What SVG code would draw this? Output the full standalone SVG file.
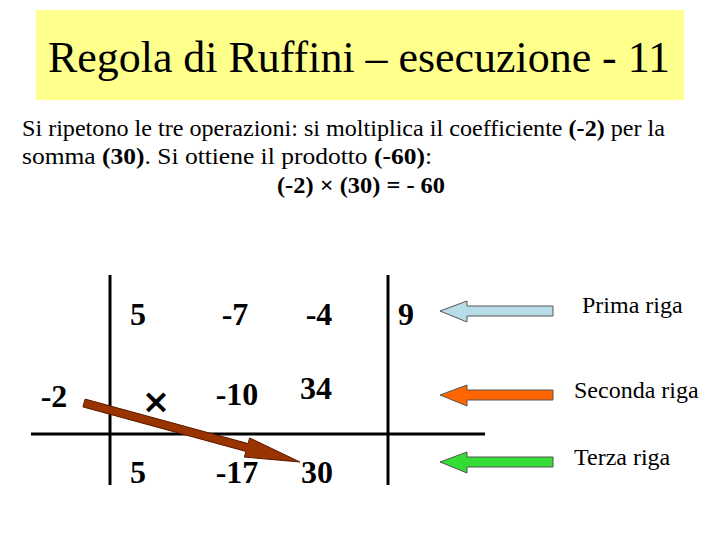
<svg xmlns="http://www.w3.org/2000/svg" width="720" height="540" viewBox="0 0 720 540">
<style>
.t{font-family:"Liberation Serif","Times New Roman",serif;fill:#000}
.n{font-family:"Liberation Serif","Times New Roman",serif;font-weight:bold;font-size:32px;fill:#000}
.p{font-size:23px}
.lbl{font-size:24px}
.ln{stroke:#000;stroke-width:3;fill:none}
.ar{stroke:#555;stroke-width:1}
</style>
<rect width="720" height="540" fill="#fff"/>
<g id="title">
<rect x="36" y="10" width="648" height="90" fill="#FFFF8C"/>
<text class="t" x="359" y="72" font-size="44" text-anchor="middle" textLength="622" lengthAdjust="spacingAndGlyphs">Regola di Ruffini – esecuzione - 11</text>
</g>
<g id="text">
<text class="t p" x="22" y="136" textLength="643" lengthAdjust="spacingAndGlyphs">Si ripetono le tre operazioni: si moltiplica il coefficiente <tspan font-weight="bold">(-2)</tspan> per la</text>
<text class="t p" x="22" y="164" textLength="410" lengthAdjust="spacingAndGlyphs">somma <tspan font-weight="bold">(30)</tspan>. Si ottiene il prodotto <tspan font-weight="bold">(-60)</tspan>:</text>
<text class="t p" x="277" y="193" font-weight="bold" textLength="168" lengthAdjust="spacingAndGlyphs">(-2) × (30) = - 60</text>
</g>
<g id="grid">
<line class="ln" x1="110" y1="275" x2="110" y2="485"/>
<line class="ln" x1="388" y1="275" x2="388" y2="485"/>
<line class="ln" x1="31" y1="434" x2="485" y2="434"/>
</g>
<g id="numbers">
<text class="n" x="138" y="325" text-anchor="middle">5</text>
<text class="n" x="235" y="325" text-anchor="middle">-7</text>
<text class="n" x="319" y="325" text-anchor="middle">-4</text>
<text class="n" x="406" y="325" text-anchor="middle">9</text>
<text class="n" x="54" y="407" text-anchor="middle">-2</text>
<text x="156" y="413" text-anchor="middle" font-family="DejaVu Sans, sans-serif" font-weight="bold" font-size="34" fill="#000">×</text>
<text class="n" x="237" y="405" text-anchor="middle">-10</text>
<text class="n" x="316" y="399" text-anchor="middle">34</text>
<text class="n" x="138" y="483" text-anchor="middle">5</text>
<text class="n" x="237" y="483" text-anchor="middle">-17</text>
<text class="n" x="317" y="483" text-anchor="middle">30</text>
</g>
<g id="connectors">
<polygon points="85.1,399.1 248.1,443.6 249.6,437.9 300,462 244.4,457.1 245.9,451.4 82.9,406.9" fill="#993300" stroke="#5a1a00" stroke-width="1"/>
<polygon class="ar" points="553,306 467,306 467,301 440,311 467,322 467,316 553,316" fill="#B7DDE8"/>
<polygon class="ar" points="553,390 467,390 467,385 440,395 467,406 467,400 553,400" fill="#FF6600"/>
<polygon class="ar" points="553,457 467,457 467,452 440,462 467,473 467,467 553,467" fill="#33DD33"/>
</g>
<g id="labels">
<text class="t lbl" x="582" y="313">Prima riga</text>
<text class="t lbl" x="574" y="398">Seconda riga</text>
<text class="t lbl" x="574" y="465">Terza riga</text>
</g>
</svg>
